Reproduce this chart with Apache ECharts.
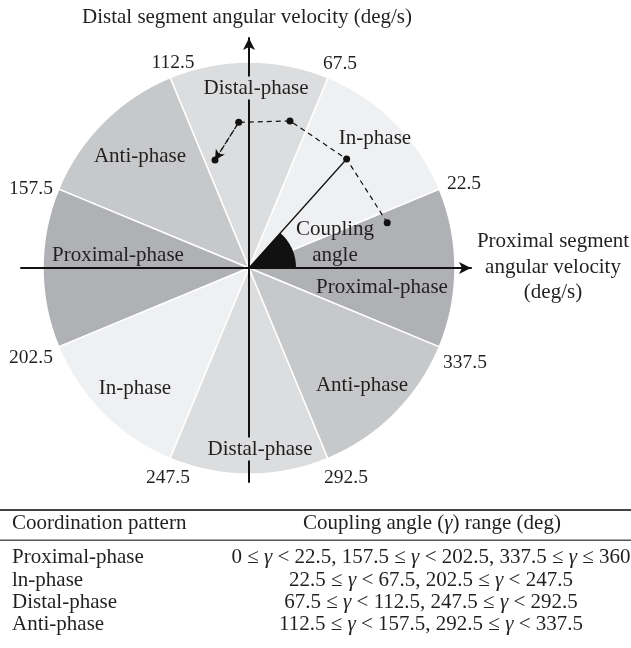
<!DOCTYPE html>
<html>
<head>
<meta charset="utf-8">
<script src="https://cdn.jsdelivr.net/npm/echarts@6/dist/echarts.min.js"></script>
<style>
html,body{margin:0;padding:0;background:#fff;}
#chart{width:631px;height:648px;}
</style>
</head>
<body>
<div id="chart"></div>
<script>
// ---- data ----
var sectorNames = ['Proximal-phase','In-phase','Distal-phase','Anti-phase','Proximal-phase','In-phase','Distal-phase','Anti-phase'];
var sectorSpans = [45,45,45,45,45,45,45,45];
var boundaryLabels = ['22.5','67.5','112.5','157.5','202.5','247.5','292.5','337.5'];
// example trajectory (normalised angular velocities)
var proximalVel = [0.671, 0.474, 0.199, -0.050, -0.165];
var distalVel   = [0.220, 0.529, 0.714, 0.707, 0.524];
var couplingIndex = 1;
// table
var tablePatterns = ['Proximal-phase','ln-phase','Distal-phase','Anti-phase'];
var tableRanges = [
  '0 ≤ {g|γ} < 22.5, 157.5 ≤ {g|γ} < 202.5, 337.5 ≤ {g|γ} ≤ 360',
  '22.5 ≤ {g|γ} < 67.5, 202.5 ≤ {g|γ} < 247.5',
  '67.5 ≤ {g|γ} < 112.5, 247.5 ≤ {g|γ} < 292.5',
  '112.5 ≤ {g|γ} < 157.5, 292.5 ≤ {g|γ} < 337.5'
];

// ---- layout ----
var CX = 249, CY = 268, R = 206;
var FF = '"Liberation Serif", "Times New Roman", serif';
var TXT = '#231f20';
var FS = 21;
var colors = {
  'Proximal-phase': '#b0b1b4',
  'In-phase': '#eff0f2',
  'Distal-phase': '#dcdddf',
  'Anti-phase': '#c7c8ca'
};
var axL = 21, axR = 471, axT = 38, axB = 482;

var chart = echarts.init(document.getElementById('chart'));

var pts = proximalVel.map(function(x, i){ return [x, distalVel[i]]; });
var cp = pts[couplingIndex];
var cAngle = Math.atan2(cp[1], cp[0]) * 180 / Math.PI;

function txt(text, x, y, size, extra) {
  var st = {text: text, x: x, y: y, fontSize: size, fontFamily: FF, fill: TXT,
            align: 'center', verticalAlign: 'middle'};
  if (extra) for (var k in extra) st[k] = extra[k];
  return {type: 'text', z: 100, silent: true, style: st};
}
var richG = {g: {fontStyle: 'italic', fontSize: FS, fontFamily: FF, fill: TXT}};

var graphics = [];
graphics.push(txt('Distal segment angular velocity (deg/s)', 247, 17, FS));
graphics.push(txt('Proximal segment', 553, 241, FS));
graphics.push(txt('angular velocity', 553, 267, FS));
graphics.push(txt('(deg/s)', 553, 292, FS));
// sector labels
graphics.push(txt(sectorNames[2], 256, 88, FS, {backgroundColor: colors['Distal-phase'], padding: [1, 3]}));
graphics.push(txt(sectorNames[1], 375, 138, FS));
graphics.push(txt(sectorNames[3], 140, 156, FS));
graphics.push(txt(sectorNames[4], 118, 255, FS));
graphics.push(txt('Coupling', 335, 229, FS));
graphics.push(txt('angle', 335, 255, FS));
graphics.push(txt(sectorNames[0], 382, 287, FS));
graphics.push(txt(sectorNames[7], 362, 385, FS));
graphics.push(txt(sectorNames[5], 135, 388, FS));
graphics.push(txt(sectorNames[6], 260, 449, FS, {backgroundColor: colors['Distal-phase'], padding: [1, 3]}));
// boundary labels
var bPos = [[464,184],[340,64],[173,63],[31,189],[31,358],[168,478],[346,478],[465,363]];
boundaryLabels.forEach(function(b, i){ graphics.push(txt(b, bPos[i][0], bPos[i][1], 19.5)); });
// table
graphics.push({type:'rect', z:100, silent:true, shape:{x:0, y:509, width:631, height:2}, style:{fill:'#444'}});
graphics.push({type:'rect', z:100, silent:true, shape:{x:0, y:539.5, width:631, height:1.5}, style:{fill:'#555'}});
graphics.push(txt('Coordination pattern', 12, 523, FS, {align: 'left'}));
graphics.push(txt('Coupling angle ({g|γ}) range (deg)', 432, 523, FS, {rich: richG}));
var rowY = [557, 580, 602, 624];
tablePatterns.forEach(function(p, i){
  graphics.push(txt(p, 12, rowY[i], FS, {align: 'left'}));
  graphics.push(txt(tableRanges[i], 431, rowY[i], FS, {rich: richG}));
});

var option = {
  animation: false,
  backgroundColor: '#fff',
  grid: {left: axL, right: 631 - axR, top: axT, bottom: 648 - axB},
  xAxis: {
    type: 'value', z: 3,
    min: (axL - CX) / R, max: (axR - CX) / R,
    axisLine: {onZero: true, lineStyle: {color: '#111', width: 2}, symbol: ['none', 'arrow'], symbolSize: [9, 12]},
    axisTick: {show: false}, axisLabel: {show: false}, splitLine: {show: false}
  },
  yAxis: {
    type: 'value', z: 3,
    min: (CY - axB) / R, max: (CY - axT) / R,
    axisLine: {onZero: true, lineStyle: {color: '#111', width: 2}, symbol: ['none', 'arrow'], symbolSize: [9, 12]},
    axisTick: {show: false}, axisLabel: {show: false}, splitLine: {show: false}
  },
  series: [
    {
      type: 'pie', z: 1, silent: true,
      center: [CX, CY], radius: [0, R],
      startAngle: -22.5, clockwise: false,
      label: {show: false}, labelLine: {show: false},
      emphasis: {disabled: true},
      itemStyle: {borderColor: '#ffffff', borderWidth: 1.5},
      data: sectorNames.map(function(n, i){
        return {name: n, value: sectorSpans[i], itemStyle: {color: colors[n]}};
      })
    },
    {
      type: 'pie', z: 2, silent: true,
      center: [CX, CY], radius: [0, 47],
      startAngle: 0, clockwise: false,
      label: {show: false}, labelLine: {show: false},
      emphasis: {disabled: true},
      data: [
        {name: 'coupling angle', value: cAngle, itemStyle: {color: '#111'}},
        {name: 'rest', value: 360 - cAngle, itemStyle: {color: 'rgba(0,0,0,0)'}}
      ]
    },
    {
      type: 'line', z: 5, silent: true,
      data: [[0, 0], cp],
      symbol: 'none',
      lineStyle: {color: '#111', width: 1.3}
    },
    {
      type: 'line', z: 6, silent: true,
      data: pts,
      symbol: 'circle', symbolSize: 7,
      itemStyle: {color: '#111'},
      lineStyle: {color: '#111', width: 1.2, type: [5, 4]},
      markLine: {
        silent: true, animation: false,
        symbol: ['none', 'arrow'], symbolSize: [8, 10],
        label: {show: false},
        lineStyle: {color: '#111', width: 1.2, type: [5, 4]},
        data: [[{coord: pts[pts.length - 2]}, {coord: pts[pts.length - 1]}]]
      }
    }
  ],
  graphic: graphics
};
chart.setOption(option);
</script>
</body>
</html>
